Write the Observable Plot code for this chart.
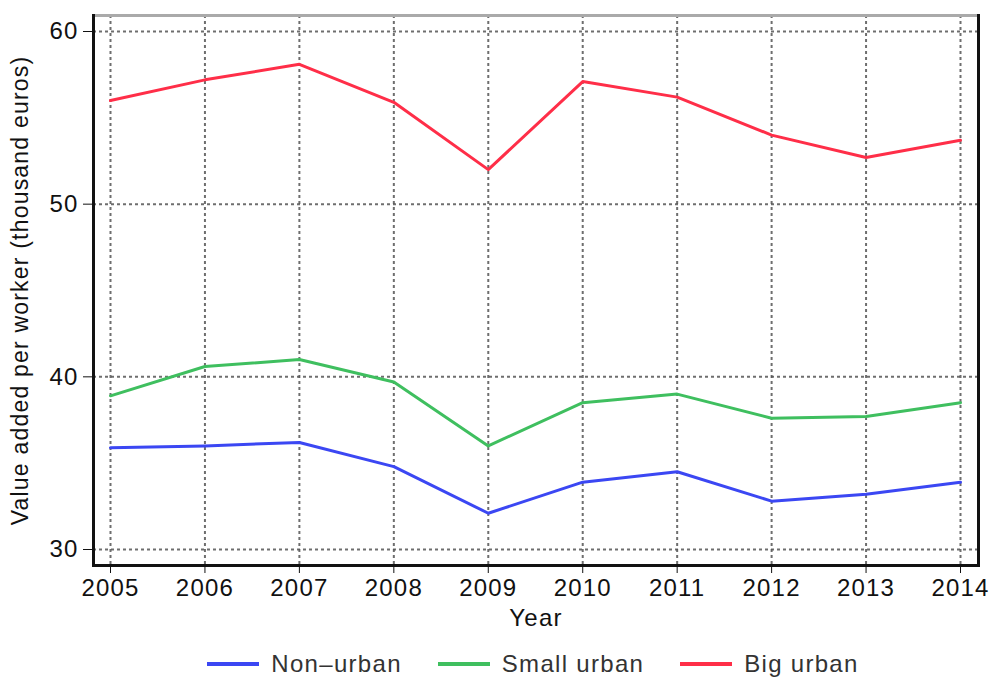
<!DOCTYPE html>
<html>
<head>
<meta charset="utf-8">
<script src="https://cdn.jsdelivr.net/npm/d3@7"></script>
<script src="https://cdn.jsdelivr.net/npm/@observablehq/plot@0.6"></script>
<style>
  body { margin: 0; background: #fff; font-family: "Liberation Sans", Arial, sans-serif; }
  #chart { width: 993px; height: 640px; }
  #legend {
    width: 993px; height: 47px; box-sizing: border-box;
    padding-left: 73px;
    display: flex; justify-content: center; align-items: center;
    font-size: 24px; letter-spacing: 1.3px; color: #333;
  }
  .item { display: flex; align-items: center; margin: 0 18px; }
  .swatch { width: 52px; height: 4px; margin-right: 12px; }
</style>
</head>
<body>
<div id="chart"></div>
<div id="legend"></div>
<script>
// Value added per worker by type of region, 2005–2014 (thousand euros)
const years = [2005, 2006, 2007, 2008, 2009, 2010, 2011, 2012, 2013, 2014];
const nonUrban   = [35.9, 36.0, 36.2, 34.8, 32.1, 33.9, 34.5, 32.8, 33.2, 33.9];
const smallUrban = [38.9, 40.6, 41.0, 39.7, 36.0, 38.5, 39.0, 37.6, 37.7, 38.5];
const bigUrban   = [56.0, 57.2, 58.1, 55.9, 52.0, 57.1, 56.2, 54.0, 52.7, 53.7];

const seriesNames  = ["Non–urban", "Small urban", "Big urban"];
const seriesColors = ["#3b47f3", "#3fbf5f", "#ff2e48"];
const yTicks = [30, 40, 50, 60];
const xTitle = "Year";
const yTitle = "Value added per worker (thousand euros)";

const rows = [];
[nonUrban, smallUrban, bigUrban].forEach((values, i) =>
  values.forEach((v, j) => rows.push({year: years[j], value: v, series: seriesNames[i]}))
);

const dotted = {stroke: "#555", strokeOpacity: 0.85, strokeWidth: 2, strokeDasharray: "3,3"};

const chart = Plot.plot({
  width: 993,
  height: 640,
  marginLeft: 93,
  marginRight: 15,
  marginTop: 15,
  marginBottom: 75,
  style: {
    fontFamily: "'Liberation Sans', Arial, sans-serif",
    fontSize: "24px",
    letterSpacing: "1.2px",
    color: "#111",
    background: "#fff"
  },
  x: {domain: [2005, 2014], insetLeft: 17, insetRight: 18},
  y: {domain: [30, 60], insetTop: 16, insetBottom: 16},
  color: {domain: seriesNames, range: seriesColors},
  marks: [
    Plot.gridX(years, dotted),
    Plot.gridY(yTicks, dotted),
    Plot.frame({stroke: "#aaa", strokeWidth: 3}),
    Plot.frame({anchor: "left", stroke: "#111", strokeWidth: 3}),
    Plot.frame({anchor: "bottom", stroke: "#111", strokeWidth: 3}),
    Plot.frame({anchor: "right", stroke: "#111", strokeWidth: 3}),
    Plot.axisX(years, {
      tickSize: 8, tickPadding: 5, tickFormat: d => String(d),
      label: xTitle, labelAnchor: "center", labelArrow: "none", labelOffset: 60
    }),
    Plot.axisY(yTicks, {tickSize: 10, tickPadding: 5, label: null}),
    Plot.text([yTitle], {
      text: d => d, frameAnchor: "left", textAnchor: "middle", rotate: -90, dx: -73,
      lineWidth: Infinity, fontSize: 23
    }),
    Plot.line(rows, {x: "year", y: "value", stroke: "series", strokeWidth: 3})
  ]
});
document.getElementById("chart").append(chart);

const legend = document.getElementById("legend");
seriesNames.forEach((name, i) => {
  const item = document.createElement("div");
  item.className = "item";
  const sw = document.createElement("span");
  sw.className = "swatch";
  sw.style.background = seriesColors[i];
  const label = document.createElement("span");
  label.textContent = name;
  item.append(sw, label);
  legend.append(item);
});
</script>
</body>
</html>
